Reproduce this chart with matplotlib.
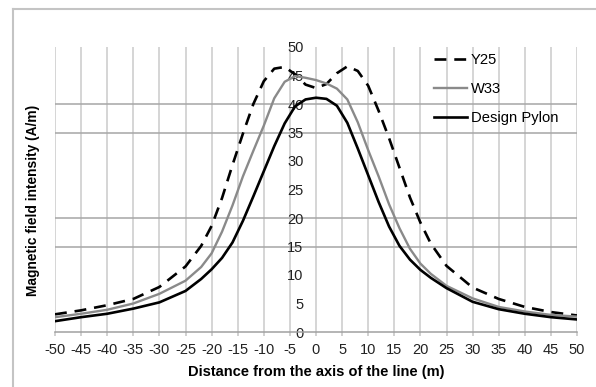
import matplotlib
matplotlib.use("Agg")
import matplotlib.pyplot as plt
from matplotlib.lines import Line2D

plt.rcParams['font.family'] = ['Liberation Sans', 'DejaVu Sans']
plt.rcParams['axes.unicode_minus'] = False

# ---- data ----
x = [-50, -45, -40, -35, -30, -25, -22, -20, -18, -16, -14, -12, -10, -8, -6, -4, -2,
     0, 2, 4, 6, 8, 10, 12, 14, 16, 18, 20, 22, 25, 30, 35, 40, 45, 50]
y25 = [3.1, 3.8, 4.7, 5.8, 7.9, 11.5, 15.1, 18.6, 23.5, 29.3, 34.8, 40.0, 44.0, 46.2, 46.5, 45.2, 43.4,
       42.8, 43.5, 45.4, 46.6, 45.8, 43.2, 38.8, 34.0, 28.8, 23.6, 19.2, 15.5, 11.6, 7.8, 5.8, 4.4, 3.5, 2.9]
w33 = [2.6, 3.2, 3.9, 5.0, 6.7, 9.0, 11.4, 13.8, 17.6, 22.2, 27.3, 31.8, 36.2, 41.0, 43.9, 44.9, 44.6,
       44.2, 43.6, 42.7, 40.8, 36.8, 31.9, 27.3, 22.4, 18.2, 14.6, 12.0, 10.2, 8.1, 5.9, 4.4, 3.6, 3.0, 2.7]
design = [1.9, 2.6, 3.2, 4.1, 5.2, 7.2, 9.3, 11.0, 13.0, 15.7, 19.5, 23.8, 28.2, 32.6, 36.6, 39.6, 40.8,
          41.1, 40.9, 39.7, 36.7, 32.2, 27.5, 22.8, 18.5, 15.1, 12.7, 10.9, 9.5, 7.7, 5.3, 4.0, 3.2, 2.6, 2.2]
labels = ["Y25", "W33", "Design Pylon"]
x_ticks = list(range(-50, 51, 5))
y_ticks = list(range(0, 51, 5))
grid_y = [15, 20, 35, 40]

fig = plt.figure(figsize=(5.96, 3.87), dpi=100)
ax = fig.add_axes([55/596, 1-332/387, (577-55)/596, (332-47)/387])

ax.set_xlim(-50, 50)
ax.set_ylim(0, 50)

# grid
for xv in x_ticks:
    ax.axvline(xv, color='#d2d2d2', lw=1.3, zorder=1)
for yv in grid_y:
    ax.axhline(yv, color='#a6a6a6', lw=1.1, zorder=1)

ax.plot(x, y25, color='black', lw=1.9, linestyle=(0, (4.5, 3.0)), label=labels[0], zorder=3)
ax.plot(x, w33, color='#8a8a8a', lw=1.7, label=labels[1], zorder=3)
ax.plot(x, design, color='black', lw=1.9, label=labels[2], zorder=4)

for s in ['top', 'right']:
    ax.spines[s].set_visible(False)
ax.spines['left'].set_position(('data', 0))
ax.spines['left'].set_color('none')
ax.spines['bottom'].set_color('#a0a0a0')
ax.spines['bottom'].set_linewidth(1.1)

ax.set_xticks(x_ticks)
ax.set_xticklabels([str(v) for v in x_ticks])
ax.set_yticks(y_ticks)
ax.set_yticklabels([str(v) for v in y_ticks])
ax.tick_params(axis='x', length=3, color='#c8c8c8', width=1.2, pad=5, labelsize=10.5, labelcolor='#222222')
ax.tick_params(axis='y', length=0, pad=9, labelsize=10.5, labelcolor='#222222')
for t in ax.get_yticklabels():
    t.set_zorder(5)

ax.set_xlabel("Distance from the axis of the line (m)", fontsize=10.5, fontweight='bold', labelpad=6)
fig.text(33/596, 1-200/387, "Magnetic field intensity (A/m)", rotation=90, fontsize=9.9,
         fontweight='bold', ha='center', va='center')

leg = ax.legend(loc='upper left', bbox_to_anchor=(0.727, 0.978), frameon=False, fontsize=10.6,
                handlelength=2.2, handletextpad=0.27, labelspacing=1.0,
                borderpad=0, borderaxespad=0)

# outer chart frame
fig.add_artist(Line2D([13/596, 13/596], [0, 1-9/387], transform=fig.transFigure, color='#c4c4c4', lw=1.5))
fig.add_artist(Line2D([13/596, 1], [1-9/387, 1-9/387], transform=fig.transFigure, color='#c4c4c4', lw=1.5))

fig.savefig("out.png", dpi=100)
